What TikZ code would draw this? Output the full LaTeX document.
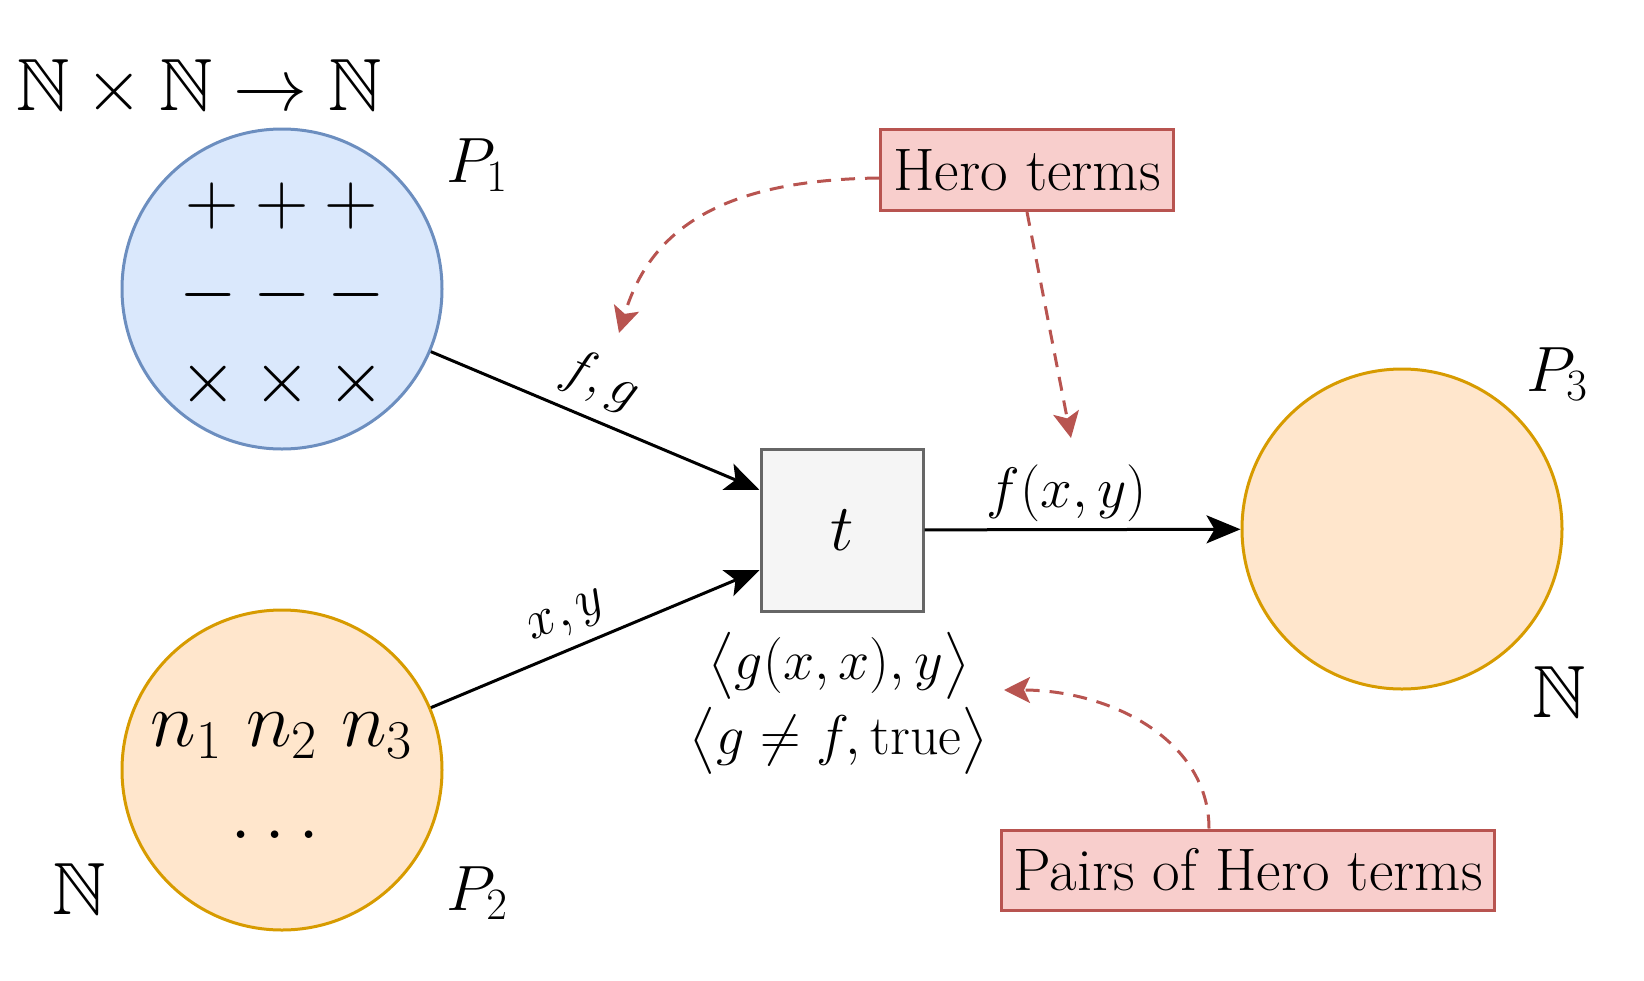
\RequirePackage{fix-cm}
\documentclass[tikz,border=0pt]{standalone}
\usepackage{amsmath}
\usepackage{amssymb}
\usepackage{xcolor}
\usetikzlibrary{arrows.meta}
\definecolor{bluefill} {rgb}{0.854901961,0.909803922,0.988235294}
\definecolor{blueline} {rgb}{0.423529412,0.556862745,0.749019608}
\definecolor{orangefill} {rgb}{1,0.901960784,0.8}
\definecolor{orangeline} {rgb}{0.843137255,0.607843137,0}
\definecolor{greyfill} {rgb}{0.960784314,0.960784314,0.960784314}
\definecolor{greyline} {rgb}{0.4,0.4,0.4}
\definecolor{notefill} {rgb}{0.972549020,0.807843137,0.8}
\definecolor{noteline} {rgb}{0.721568627,0.329411765,0.313725490}

\begin{document}
\begin{tikzpicture}[x=0.5pt,y=-0.5pt,
      placenode/.style={circle,minimum size=160pt,inner sep=0pt,line width=1.5pt},
      tokens/.style={font=\fontsize{37}{44.5}\selectfont},
      placelabel/.style={font=\fontsize{32}{38}\selectfont},
      arclabel/.style={font=\fontsize{27}{32}\selectfont},
      guardtext/.style={font=\fontsize{28}{37.5}\selectfont},
      notebox/.style={draw=noteline,fill=notefill,line width=1.5pt,inner sep=0pt,font=\fontsize{30}{36}\selectfont},
      flowarrow/.style={-{Stealth[length=17pt,width=14pt,inset=4pt]},line width=1.5pt},
      notearrow/.style={-{Stealth[length=13pt,width=13pt,inset=3pt]},noteline,line width=1.5pt,dash pattern=on 7pt off 5pt}]
                  \useasboundingbox (0,0) rectangle (1644,980);
                  \node[placenode,draw=blueline,fill=bluefill] (p1) at (282,289) {};
                  \node[placenode,draw=orangeline,fill=orangefill] (p2) at (282,770) {};
                  \node[placenode,draw=orangeline,fill=orangefill] (p3) at (1402,529) {};
                  \node[draw=greyline,fill=greyfill,line width=1.5pt,minimum size=81pt,inner sep=0pt,font=\fontsize{33}{39}\selectfont] (t) at (842,530) {$t$};
                  \node[tokens,align=center] (p1tokens) at (282,296) {${+}\:{+}\:{+}$\\${-}\:{-}\:{-}$\\${\times}\:{\times}\:{\times}$};
                  \node[tokens,align=center,font=\fontsize{39}{46}\selectfont] (p2tokens) at (282,776) {$n_1\ n_2\ n_3$\\$\dots$};
                  \node[tokens] (p1type) at (199,88) {$\mathbb{N}\times\mathbb{N}\to\mathbb{N}$};
                  \node[placelabel] (p1name) at (477,165) {$P_1$};
                  \node[placelabel] (p2name) at (477,893) {$P_2$};
                  \node[tokens] (p2type) at (79,889) {$\mathbb{N}$};
                  \node[placelabel] (p3name) at (1557,374) {$P_3$};
                  \node[tokens] (p3type) at (1559,692) {$\mathbb{N}$};
                  \node[guardtext,align=center] (tguard) at (839,703) {$\bigl\langle g(x,x),y\bigr\rangle$\\$\bigl\langle g\neq f,\mathrm{true}\bigr\rangle$};
                  \node[notebox,minimum width=146.5pt,minimum height=40.5pt] (hero) at (1027,170) {Hero terms};
                  \node[notebox,minimum width=246.5pt,minimum height=40pt] (pairs) at (1248,870) {Pairs of Hero terms};
                  \coordinate (fgtip) at (619,333);
                  \coordinate (fxytip) at (1071,438);
                  \coordinate (guardtip) at (1004,690);
                  \draw[flowarrow] (p1) -- node[arclabel,pos=0.47,sloped,above=3pt] (fglabel) {$f,g$} ([yshift=20pt]t.west);
                  \draw[flowarrow] (p2) -- node[arclabel,pos=0.45,sloped,above=2pt] (xylabel) {$x,y$} ([yshift=-20pt]t.west);
                  \draw[flowarrow] (t) -- node[arclabel,pos=0.45,above,font=\fontsize{28.5}{34}\selectfont] (fxylabel) {$f(x,y)$} (p3);
                  \draw[notearrow] ([yshift=-4pt]hero.west) .. controls (720,180) and (650,230) .. (fgtip);
                  \draw[notearrow] (hero.south) -- (fxytip);
                  \draw[notearrow] ([xshift=-19.5pt]pairs.north) .. controls (1209,740) and (1110,690) .. (guardtip);
            \end{tikzpicture}
\end{document}
